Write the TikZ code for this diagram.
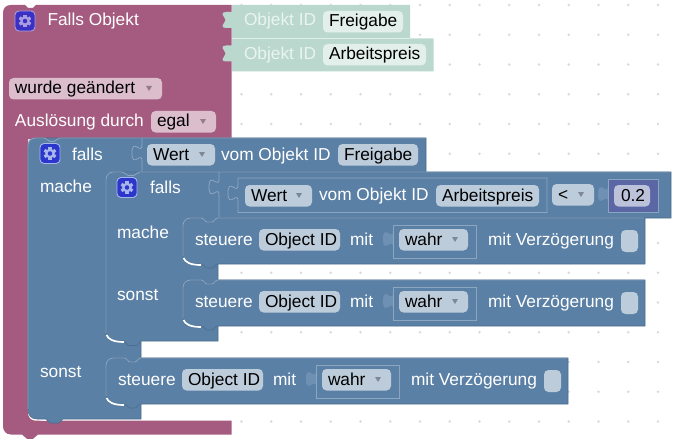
\documentclass[tikz,border=0pt]{standalone}
\usepackage{fontspec}
\setmainfont{Liberation Sans}
\definecolor{purp}{HTML}{A55B80}
\definecolor{purpchip}{HTML}{DBBDCC}
\definecolor{bluek}{HTML}{5B80A5}
\definecolor{bluechip}{HTML}{BDCCDB}
\definecolor{bluehl}{HTML}{8CA6C0}
\definecolor{bluetab}{HTML}{6E90B2}
\definecolor{bluedk}{HTML}{4C6E90}
\definecolor{grn}{HTML}{BAD8CE}
\definecolor{grnchip}{HTML}{E3EFEB}
\definecolor{grntxt}{HTML}{EAF4F0}
\definecolor{mathb}{HTML}{5B67A5}
\definecolor{mathchip}{HTML}{BDC2DB}
\definecolor{griddot}{HTML}{D9D9D9}
\definecolor{iconp}{HTML}{3A30C4}
\definecolor{icongp}{HTML}{A99CE0}
\definecolor{iconb}{HTML}{2B36CC}
\definecolor{icongb}{HTML}{A9B6EC}
\tikzset{
  lbl/.style={anchor=base west,inner sep=0pt,outer sep=0pt,font=\fontsize{17.3}{20}\selectfont,text=white},
  chiptxt/.style={lbl,text=black},
  grntext/.style={lbl,text=grntxt},
  hl/.style={draw=bluehl,line width=.8pt},
  blockbody/.style={fill=bluek,draw=bluedk,line width=.6pt},
  crescent/.style={draw=white,line width=1.7pt},
}
% puzzle tab going down from (#1,#2)
\def\ptab#1#2{.. controls ([shift={(0,10.5)}]#1,#2) and ([shift={(-10,-8)}]#1,#2) .. ([shift={(-10,8)}]#1,#2)
  .. controls ([shift={(-10,24)}]#1,#2) and ([shift={(0,5.5)}]#1,#2) .. ([shift={(0,16)}]#1,#2)}
% flatter tab of the green blocks
\def\gtab#1#2{-- ([shift={(-6,0)}]#1,#2) .. controls ([shift={(-8.5,0)}]#1,#2) and ([shift={(-10,1)}]#1,#2) .. ([shift={(-9.5,2.5)}]#1,#2)
  .. controls ([shift={(-9,5)}]#1,#2) and ([shift={(-6.5,5.5)}]#1,#2) .. ([shift={(-6.5,8)}]#1,#2)
  .. controls ([shift={(-6.5,10.5)}]#1,#2) and ([shift={(-9,11)}]#1,#2) .. ([shift={(-9.5,13.5)}]#1,#2)
  .. controls ([shift={(-10,15)}]#1,#2) and ([shift={(-8.5,16)}]#1,#2) .. ([shift={(-6,16)}]#1,#2) -- ([shift={(0,16)}]#1,#2)}
% chip: name, x1, x2, ytop, colour, text
\newcommand\chip[6]{%
  \fill[#5,rounded corners=4.5pt] (#2,#4) rectangle (#3,#4+21.5);
  \node[chiptxt] (#1) at (#2+6,#4+16) {#6};}
\newcommand\dchip[6]{%
  \chip{#1}{#2}{#3}{#4}{#5}{#6}
  \fill[black,opacity=.33] (#3-16,#4+8) -- (#3-10,#4+8) -- (#3-13,#4+13) -- cycle;}
\newcommand\gearicon[4]{%
  \begin{scope}[shift={(#1,#2)}]
    \fill[#3,draw=#4,line width=.9pt,rounded corners=4pt] (0,0) rectangle (20,20);
    \draw[#4,line width=2.2pt] (10,10) circle[radius=3.6];
    \foreach \a in {0,60,...,300}{
      \fill[#4,rotate around={\a:(10,10)}] (8.4,3.6) rectangle (11.6,6.6);}
  \end{scope}}
% statement block: prefix, x, y
\newcommand\stmt[3]{%
  \begin{scope}[shift={(#2,#3)}]
    \path[blockbody] (0,8) .. controls (0,3) and (3,0) .. (8,0) -- (18,0)
      .. controls (21,0) and (22,4) .. (24,4) -- (29,4) .. controls (31,4) and (32,0) .. (35,0)
      -- (462,0) -- (462,46) -- (35,46) .. controls (32,46) and (31,50) .. (29,50) -- (24,50)
      .. controls (22,50) and (21,46) .. (18,46) -- (8,46) .. controls (3,46) and (0,43) .. (0,38) -- cycle;
    \draw[hl] (0,38) -- (0,8) .. controls (0,3) and (3,0) .. (8,0) -- (18,0)
      .. controls (21,0) and (22,4) .. (24,4) -- (29,4) .. controls (31,4) and (32,0) .. (35,0) -- (461,0);
    \draw[crescent] (.6,40) .. controls (2,44) and (7,47) .. (18,47);
    \node[lbl] (#1steuere) at (12,27) {steuere};
    \chip{#1id}{76}{157}{11}{bluechip}{Object ID}
    \node[lbl] (#1mit) at (167,27) {mit};
    \fill[bluetab] (210,13) \ptab{210}{13} -- cycle;
    \draw[hl] (210,7) -- (210,40) -- (293,40) -- (293,7) -- cycle;
    \dchip{#1val}{216}{285}{11}{bluechip}{wahr}
    \node[lbl] (#1delay) at (305,27) {mit Verzögerung};
    \fill[bluechip,rounded corners=4.5pt] (438,12) rectangle (455,34);
  \end{scope}}
\begin{document}
\begin{tikzpicture}[x=1pt,y=-1pt]
\useasboundingbox (0,0) rectangle (678,444);
\fill[white] (0,0) rectangle (678,444);
% grid dots
\foreach \i in {0,...,14}{\foreach \j in {0,...,14}{
  \fill[griddot] (241.5+29.75*\i,5+29.75*\j) circle[radius=1.3];}}
% purple block
\fill[purp] (3,13) .. controls (3,8) and (6,5) .. (11,5) -- (25,5) -- (28,8) -- (33,8) -- (36,5)
  -- (231.5,5) -- (231.5,139) -- (28,139) -- (28,412) .. controls (28,418) and (31,420.7) .. (36,420.7)
  -- (231.5,420.7) -- (231.5,434.5) -- (38,434.5) -- (33,438.8) -- (27,438.8) -- (22,434.5) -- (11,434.5)
  .. controls (6,434.5) and (3,431) .. (3,426) -- cycle;
% green blocks
\fill[grn] (232,5) -- (232,12) \gtab{232}{12} -- (232,38) -- (410,38) -- (410,5) -- cycle;
\fill[grn] (232,38.5) -- (232,45.5) \gtab{232}{45.5} -- (232,71.5) -- (433.5,71.5) -- (433.5,38.5) -- cycle;
\draw[grntxt,line width=.5pt,opacity=.6] (232,38.3) -- (410,38.3);
\node[grntext] (oid1) at (244,26) {Objekt ID};
\chip{fg1}{323}{403}{11}{grnchip}{Freigabe}
\node[grntext] (oid2) at (244,59.5) {Objekt ID};
\chip{ap1}{323}{426}{44}{grnchip}{Arbeitspreis}
% purple block content
\gearicon{15}{11}{iconp}{icongp}
\node[lbl] (head) at (47.5,26) {Falls Objekt};
\dchip{chg}{9}{162}{78}{purpchip}{wurde geändert}
\node[lbl] (ausl) at (15,126) {Auslösung durch};
\dchip{egal}{151}{216}{111}{purpchip}{egal}
% outer blue block
\draw[crescent] (28.6,411) .. controls (30,416) and (35,420) .. (46,420);
\path[blockbody] (28,146) .. controls (28,141) and (31,138) .. (36,138) -- (426,138) -- (426,172) -- (141,172)
  -- (141,419) -- (63,419) -- (59,423) -- (50,423) -- (46,419) -- (37,419)
  .. controls (31,419) and (28,415) .. (28,409) -- cycle;
\draw[hl] (28,409) -- (28,146) .. controls (28,141) and (31,138) .. (36,138) -- (44,138) .. controls (47,138) and (48,141.5) .. (50,141.5)
  -- (54,141.5) .. controls (56,141.5) and (57,138) .. (60,138) -- (425.5,138);
\draw[hl] (142,138) -- (142,145) \ptab{142}{145} -- (142,172);
\gearicon{40}{143.5}{iconb}{icongb}
\node[lbl] (falls1) at (72,160) {falls};
\dchip{wert1}{147}{215}{144}{bluechip}{Wert}
\node[lbl] (vom1) at (221,160) {vom Objekt ID};
\chip{fg2}{338}{418}{144}{bluechip}{Freigabe}
\node[lbl] (mache1) at (40,192) {mache};
\node[lbl] (sonst1) at (40,377) {sonst};
% inner blue block
\path[blockbody] (106,180) .. controls (106,175) and (109,172) .. (114,172) -- (671,172) -- (671,218) -- (218,218)
  -- (218,341) -- (141,341) -- (137,345.5) -- (128,345.5) -- (124,341) -- (114,341)
  .. controls (109,341) and (106,338) .. (106,333) -- cycle;
\draw[hl] (106,333) -- (106,180) .. controls (106,175) and (109,172) .. (114,172) -- (122,172) .. controls (125,172) and (126,175.5) .. (128,175.5)
  -- (134,175.5) .. controls (136,175.5) and (137,172) .. (140,172) -- (670,172);
\draw[crescent] (106.6,335) .. controls (108,339) and (113,342) .. (124,342);
\draw[hl] (219,172) -- (219,179) \ptab{219}{179} -- (219,218);
\gearicon{117}{177.5}{iconb}{icongb}
\node[lbl] (falls2) at (150,193) {falls};
\node[lbl] (mache2) at (117,238) {mache};
\node[lbl] (sonst2) at (117,300) {sonst};
% comparison
\draw[hl] (238,178) -- (238,185) \ptab{238}{185} -- (238,212.5) -- (547,212.5) -- (547,178) -- cycle;
\dchip{wert2}{245}{312}{185}{bluechip}{Wert}
\node[lbl] (vom2) at (319,200) {vom Objekt ID};
\chip{ap2}{436}{539}{185}{bluechip}{Arbeitspreis}
\dchip{cmp}{552}{594}{184}{bluechip}{<}
\fill[bluetab] (608,186) \ptab{608}{186} -- cycle;
\path[fill=mathb,draw=bluehl,line width=.7pt] (608,179) -- (608,212.5) -- (658,212.5) -- (658,179) -- cycle;
\chip{num}{614}{650}{185}{mathchip}{\hspace{1pt}0.2}
% statements
\stmt{a}{183}{218}
\stmt{b}{183}{280}
\stmt{c}{106}{358}
\end{tikzpicture}
\end{document}
